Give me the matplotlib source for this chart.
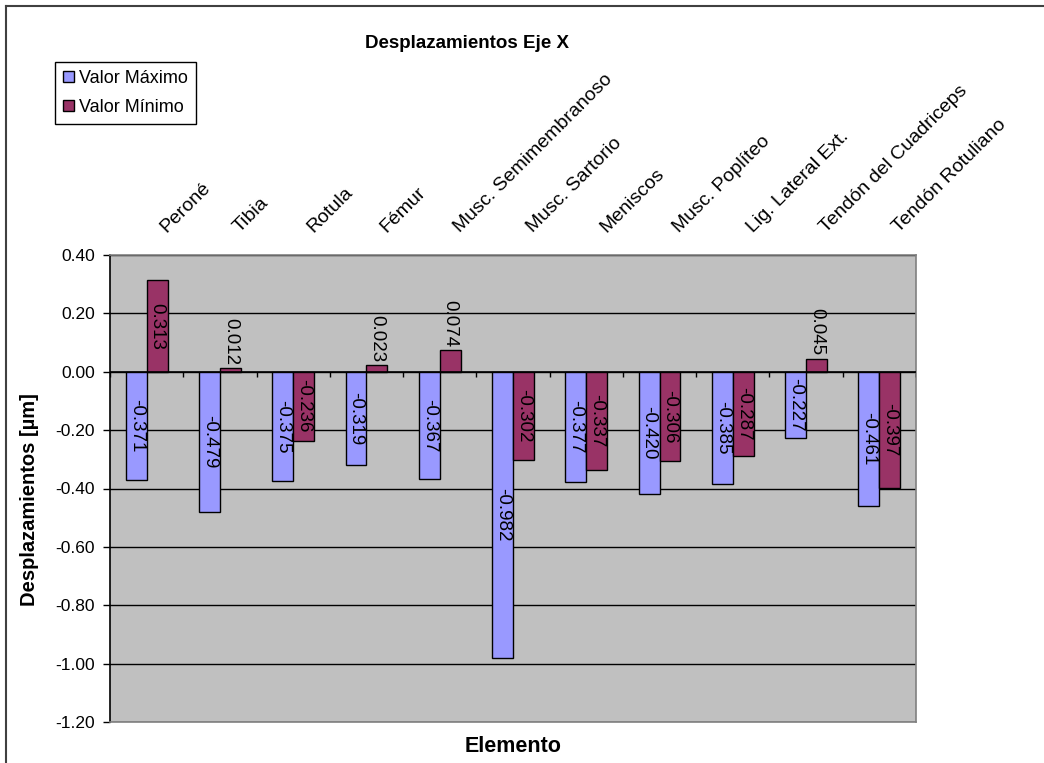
import numpy as np
import matplotlib
matplotlib.use("Agg")
import matplotlib.pyplot as plt
from matplotlib.lines import Line2D

plt.rcParams['font.family'] = ['Liberation Sans', 'DejaVu Sans']

# data
elementos = ["Peroné", "Tibia", "Rotula", "Fémur", "Musc. Semimembranoso",
             "Musc. Sartorio", "Meniscos", "Musc. Poplíteo", "Lig. Lateral Ext.",
             "Tendón del Cuadriceps", "Tendón Rotuliano"]
valor_maximo = [-0.371, -0.479, -0.375, -0.319, -0.367, -0.982, -0.377, -0.420, -0.385, -0.227, -0.461]
valor_minimo = [0.313, 0.012, -0.236, 0.023, 0.074, -0.302, -0.337, -0.306, -0.287, 0.045, -0.397]
y_ticks = [0.40, 0.20, 0.00, -0.20, -0.40, -0.60, -0.80, -1.00, -1.20]

W, H = 1044, 763
fig = plt.figure(figsize=(W/100, H/100), dpi=100)
ax = fig.add_axes([110/W, 1-722/H, 806/W, (722-255)/H])
ax.set_facecolor('#C0C0C0')

n = len(elementos)
x = np.arange(n)
bw = 1/3.5  # excel gap width 150

b1 = ax.bar(x - bw/2, valor_maximo, bw, color='#9999FF', edgecolor='black', linewidth=1, label='Valor Máximo', zorder=3)
b2 = ax.bar(x + bw/2, valor_minimo, bw, color='#993366', edgecolor='black', linewidth=1, label='Valor Mínimo', zorder=3)

# value labels, rotated; centred in the bar unless the bar is too short
for bars, vals in [(b1, valor_maximo), (b2, valor_minimo)]:
    for b, v in zip(bars, vals):
        xc = b.get_x() + b.get_width()/2
        txt = "%.3f" % v
        if abs(v) < 0.2:
            ax.annotate(txt, xy=(xc, v), xytext=(0, 3 if v >= 0 else -3), textcoords='offset pixels',
                        rotation=270, ha='center', va='bottom' if v >= 0 else 'top',
                        fontsize=13.5, zorder=4)
        else:
            ax.text(xc, v/2, txt, rotation=270, ha='center', va='center',
                    fontsize=13.5, zorder=4)

ax.set_xlim(-0.5, n - 0.5)
ax.set_ylim(-1.2, 0.4)
ax.set_yticks(y_ticks)
ax.set_yticklabels(["%.2f" % t for t in y_ticks], fontsize=12.5)
ax.yaxis.grid(True, color='black', linewidth=1, zorder=1)
ax.tick_params(axis='y', direction='out', length=5, width=1, pad=6)

# category axis at zero with ticks between categories
ax.set_xticks([])
ax.axhline(0, color='black', linewidth=1.2, zorder=3.5)
ax.vlines(np.arange(n + 1) - 0.5, -0.018, 0, color='black', linewidth=1, zorder=3.5)

for s in ['top', 'right', 'bottom']:
    ax.spines[s].set_color('#808080')
    ax.spines[s].set_linewidth(1.2)
ax.spines['left'].set_color('black')
ax.spines['left'].set_linewidth(1.2)

# category names above the plot
for i, name in enumerate(elementos):
    ax.annotate(name, xy=(i, 1), xycoords=('data', 'axes fraction'),
                xytext=(20, 22), textcoords='offset pixels',
                rotation=45, rotation_mode='anchor', ha='left', va='baseline',
                fontsize=14)

fig.text(467/W, 1-43/H, "Desplazamientos Eje X", ha='center', va='center',
         fontsize=13.5, fontweight='bold')
fig.text(513/W, 1-747/H, "Elemento", ha='center', va='center',
         fontsize=15.5, fontweight='bold')
fig.text(30/W, 1-500/H, "Desplazamientos [µm]", ha='center', va='center',
         rotation=90, fontsize=14.5, fontweight='bold')

leg = fig.legend(handles=[b1, b2], loc='upper left', bbox_to_anchor=(55/W, 1-62/H),
                 borderaxespad=0, fontsize=13, fancybox=False, framealpha=1,
                 edgecolor='black', handlelength=0.6, handleheight=0.6,
                 handletextpad=0.3, labelspacing=0.65, borderpad=0.45)
leg.get_frame().set_linewidth(1)

# chart border (top and left visible)
fig.add_artist(Line2D([6/W, 1], [1-6/H, 1-6/H], transform=fig.transFigure, color='#404040', linewidth=1.5))
fig.add_artist(Line2D([6/W, 6/W], [0, 1-6/H], transform=fig.transFigure, color='#404040', linewidth=1.5))

fig.savefig('out.png', dpi=100, facecolor='white')
